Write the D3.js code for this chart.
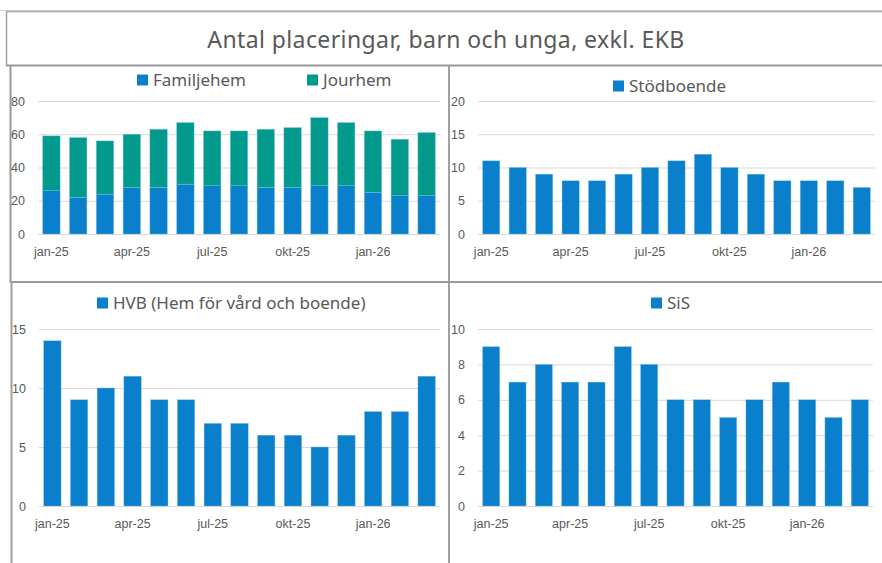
<!DOCTYPE html>
<html>
<head>
<meta charset="utf-8">
<script src="https://cdn.jsdelivr.net/npm/d3@7"></script>
<style>
  body { margin: 0; background: #fff; }
  svg { display: block; font-family: "Noto Sans", "DejaVu Sans", sans-serif; }
</style>
</head>
<body>
<svg id="chart" width="882" height="563"></svg>
<script>
// months on the x axis, only every third one gets a label
var months = ["jan-25","feb-25","mar-25","apr-25","maj-25","jun-25","jul-25","aug-25","sep-25","okt-25","nov-25","dec-25","jan-26","feb-26","mar-26"];
var shownMonths = ["jan-25","apr-25","jul-25","okt-25","jan-26"];

var familjehem = [26,22,24,28,28,30,29,29,28,28,29,29,25,23,23];
var jourhem    = [33,36,32,32,35,37,33,33,35,36,41,38,37,34,38];
var stodboende = [11,10,9,8,8,9,10,11,12,10,9,8,8,8,7];
var hvb        = [14,9,10,11,9,9,7,7,6,6,5,6,8,8,11];
var sis        = [9,7,8,7,7,9,8,6,6,5,6,7,6,5,6];

var title = "Antal placeringar, barn och unga, exkl. EKB";

var blue = "#0a7fcc", teal = "#039a8e", grey = "#595959";

var svg = d3.select("#chart");

// frame lines (excel-ish cell borders)
var frame = svg.append("g").attr("fill", "none");
frame.append("line").attr("x1",0).attr("x2",882).attr("y1",10.5).attr("y2",10.5).attr("stroke","#d6d6d6");
frame.append("line").attr("x1",6).attr("x2",882).attr("y1",11.5).attr("y2",11.5).attr("stroke","#a8a8a8").attr("stroke-width",1.5);
frame.append("line").attr("x1",6.5).attr("x2",6.5).attr("y1",11).attr("y2",66).attr("stroke","#a0a0a0").attr("stroke-width",1.5);
frame.append("line").attr("x1",6).attr("x2",882).attr("y1",65.5).attr("y2",65.5).attr("stroke","#999").attr("stroke-width",2);
frame.append("line").attr("x1",10.5).attr("x2",10.5).attr("y1",65).attr("y2",283).attr("stroke","#999").attr("stroke-width",2);
frame.append("line").attr("x1",449).attr("x2",449).attr("y1",65).attr("y2",563).attr("stroke","#a0a0a0").attr("stroke-width",2);
frame.append("line").attr("x1",10).attr("x2",882).attr("y1",282).attr("y2",282).attr("stroke","#999").attr("stroke-width",2);
frame.append("line").attr("x1",11.5).attr("x2",11.5).attr("y1",282).attr("y2",563).attr("stroke","#a0a0a0").attr("stroke-width",2);

svg.append("text")
  .attr("x", 446).attr("y", 48)
  .attr("text-anchor", "middle")
  .attr("font-size", 23)
  .attr("letter-spacing", 0.4)
  .attr("fill", grey)
  .text(title);

function drawPanel(p) {
  var g = svg.append("g");

  var x = d3.scaleBand().domain(months).range([p.x0, p.x1]).paddingInner(0.35).paddingOuter(0.175);
  var y = d3.scaleLinear().domain([0, p.max]).range([p.yBottom, p.yTop]);

  // gridlines
  var grid = g.append("g").attr("transform", "translate(" + p.x0 + ",0)")
    .call(d3.axisLeft(y).tickValues(p.ticks).tickSize(-(p.x1 - p.x0)).tickFormat(""));
  grid.select(".domain").remove();
  grid.selectAll(".tick line").attr("stroke", "#d9d9d9");

  // y labels
  var ya = g.append("g").attr("transform", "translate(" + p.x0 + ",0)")
    .call(d3.axisLeft(y).tickValues(p.ticks).tickSize(0).tickPadding(13));
  ya.select(".domain").remove();
  ya.selectAll("text").attr("fill", grey).attr("font-size", 12.5);

  // stacked bars
  var base = months.map(function() { return 0; });
  p.series.forEach(function(s) {
    g.append("g").selectAll("rect").data(s.values).enter().append("rect")
      .attr("x", function(d, i) { return x(months[i]); })
      .attr("width", x.bandwidth())
      .attr("y", function(d, i) { return y(base[i] + d); })
      .attr("height", function(d, i) { return y(base[i]) - y(base[i] + d); })
      .attr("fill", s.color)
      .attr("stroke", "#7fc0e8").attr("stroke-width", 0.4);
    s.values.forEach(function(d, i) { base[i] += d; });
  });

  // x labels
  var xa = g.append("g").attr("transform", "translate(0," + p.yBottom + ")")
    .call(d3.axisBottom(x).tickValues(shownMonths).tickSize(0).tickPadding(13));
  xa.select(".domain").remove();
  xa.selectAll("text").attr("fill", grey).attr("font-size", 12.5);

  // legend
  p.series.forEach(function(s) {
    g.append("rect").attr("x", s.legendX).attr("y", p.legendY - 5.5)
      .attr("width", 11).attr("height", 11).attr("fill", s.color);
    g.append("text").attr("x", s.legendX + 16).attr("y", p.legendY)
      .attr("dy", "0.35em").attr("font-size", 17).attr("fill", grey)
      .text(s.name);
  });
}

drawPanel({ x0: 38, x1: 440, yTop: 101, yBottom: 234, max: 80, ticks: [0,20,40,60,80], legendY: 80,
  series: [
    { name: "Familjehem", values: familjehem, color: blue, legendX: 137 },
    { name: "Jourhem", values: jourhem, color: teal, legendX: 307 }
  ] });

drawPanel({ x0: 478, x1: 875, yTop: 101, yBottom: 234, max: 20, ticks: [0,5,10,15,20], legendY: 86,
  series: [ { name: "Stödboende", values: stodboende, color: blue, legendX: 613 } ] });

drawPanel({ x0: 39, x1: 440, yTop: 329, yBottom: 506, max: 15, ticks: [0,5,10,15], legendY: 303,
  series: [ { name: "HVB (Hem för vård och boende)", values: hvb, color: blue, legendX: 97 } ] });

drawPanel({ x0: 478, x1: 873, yTop: 329, yBottom: 506, max: 10, ticks: [0,2,4,6,8,10], legendY: 303,
  series: [ { name: "SiS", values: sis, color: blue, legendX: 651 } ] });
</script>
</body>
</html>
